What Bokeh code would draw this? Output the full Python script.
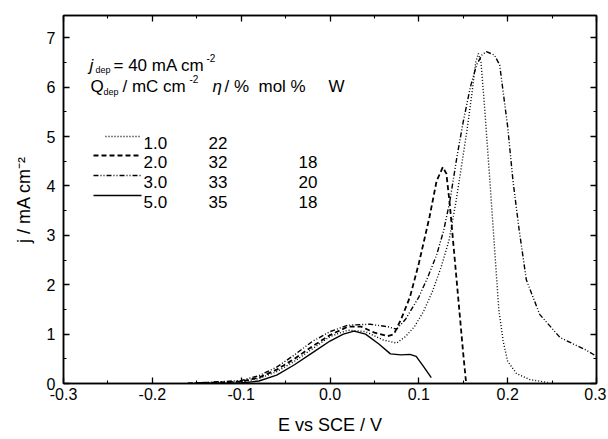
from bokeh.plotting import figure
from bokeh.models import (LinearAxis, FixedTicker, Label, Range1d)
from bokeh.embed import file_html
from bokeh.resources import INLINE

# ---------------- data ----------------
E_q10 = [-0.16, -0.1, -0.08, -0.06, -0.04, -0.02, 0.0, 0.02, 0.04, 0.06, 0.075, 0.085,
         0.095, 0.105, 0.115, 0.125, 0.134, 0.142, 0.148, 0.154, 0.16, 0.164, 0.167,
         0.17, 0.174, 0.18, 0.185, 0.19, 0.195, 0.2, 0.21, 0.225, 0.245]
j_q10 = [0.0, 0.03, 0.1, 0.24, 0.45, 0.7, 0.95, 1.08, 1.05, 0.88, 0.82, 0.95,
         1.15, 1.45, 1.85, 2.35, 2.9, 3.7, 4.4, 5.1, 5.9, 6.5, 6.68,
         6.5, 5.6, 4.1, 2.8, 1.5, 0.85, 0.45, 0.2, 0.08, 0.02]

E_q20 = [-0.16, -0.1, -0.08, -0.06, -0.04, -0.02, 0.0, 0.02, 0.035, 0.05, 0.065, 0.072,
         0.08, 0.09, 0.1, 0.112, 0.12, 0.127, 0.131, 0.135, 0.14, 0.145, 0.15, 0.153]
j_q20 = [0.0, 0.04, 0.12, 0.28, 0.5, 0.75, 0.98, 1.15, 1.15, 1.03, 0.96, 1.0,
         1.3, 1.75, 2.43, 3.37, 4.1, 4.38, 4.25, 3.6, 2.6, 1.6, 0.6, 0.05]

E_q30 = [-0.16, -0.1, -0.08, -0.06, -0.04, -0.02, 0.0, 0.02, 0.045, 0.065, 0.075, 0.085,
         0.1, 0.11, 0.12, 0.128, 0.135, 0.143, 0.15, 0.158, 0.165, 0.171, 0.176, 0.185,
         0.191, 0.2, 0.206, 0.213, 0.221, 0.236, 0.259, 0.289, 0.3]
j_q30 = [0.0, 0.06, 0.16, 0.33, 0.58, 0.85, 1.05, 1.18, 1.2, 1.15, 1.1, 1.3,
         1.75, 2.15, 2.6, 3.1, 3.7, 4.6, 5.3, 6.0, 6.45, 6.65, 6.72, 6.65,
         6.45, 5.2, 4.1, 3.1, 2.1, 1.4, 0.93, 0.67, 0.55]

E_q50 = [-0.15, -0.1, -0.08, -0.06, -0.04, -0.02, 0.0, 0.015, 0.027, 0.04, 0.055, 0.068,
         0.08, 0.09, 0.097, 0.105, 0.114]
j_q50 = [0.0, 0.01, 0.05, 0.17, 0.38, 0.62, 0.86, 1.0, 1.06, 1.0, 0.8, 0.6,
         0.58, 0.59, 0.55, 0.35, 0.12]

x_ticks = [-0.3, -0.2, -0.1, 0.0, 0.1, 0.2, 0.3]
x_tick_labels = ["-0.3", "-0.2", "-0.1", "0.0", "0.1", "0.2", "0.3"]
x_minor = [-0.25, -0.15, -0.05, 0.05, 0.15, 0.25]
y_ticks = [0, 1, 2, 3, 4, 5, 6, 7]
y_minor = [0.5, 1.5, 2.5, 3.5, 4.5, 5.5, 6.5]

q_dep = ["1.0", "2.0", "3.0", "5.0"]
eta = ["22", "32", "33", "35"]
mol_w = ["", "18", "20", "18"]

# ---------------- figure ----------------
XMIN, XMAX, YMIN, YMAX = -0.3, 0.3, 0.0, 7.45
FL, FT, FW, FH = 63, 15, 533, 368   # frame position/size in page pixels

FONT = "Liberation Sans"

p = figure(frame_width=FW, frame_height=FH, min_border_left=FL, min_border_right=10,
           min_border_top=FT, min_border_bottom=54,
           x_range=Range1d(XMIN, XMAX), y_range=Range1d(YMIN, YMAX),
           output_backend="svg", toolbar_location=None)
p.xgrid.visible = False
p.ygrid.visible = False
p.outline_line_color = "black"
p.outline_line_width = 1.5
p.background_fill_color = "white"
p.border_fill_color = "white"


def style_axis(ax, show_labels, standoff):
    ax.axis_line_color = "black"
    ax.axis_line_width = 1.5
    ax.major_tick_in = 6
    ax.major_tick_out = 0
    ax.minor_tick_in = 3
    ax.minor_tick_out = 0
    ax.major_tick_line_color = "black"
    ax.major_tick_line_width = 1.3
    ax.minor_tick_line_color = "black"
    ax.minor_tick_line_width = 1.1
    ax.major_label_text_font = FONT
    ax.major_label_text_font_size = "16px"
    ax.major_label_text_color = "black"
    ax.major_label_standoff = standoff
    if not show_labels:
        ax.major_label_text_alpha = 0.0
        ax.major_label_text_font_size = "1px"


p.xaxis.ticker = FixedTicker(ticks=x_ticks, minor_ticks=x_minor)
p.xaxis.major_label_overrides = {t: l for t, l in zip(x_ticks, x_tick_labels)}
p.yaxis.ticker = FixedTicker(ticks=y_ticks, minor_ticks=y_minor)
style_axis(p.xaxis[0], True, 4)
style_axis(p.yaxis[0], True, 8)

p.xaxis.axis_label = "E vs SCE / V"
p.yaxis.axis_label = "j / mA cm\u207b\u00b2"
for ax in (p.xaxis[0], p.yaxis[0]):
    ax.axis_label_text_font = FONT
    ax.axis_label_text_font_size = "18px"
    ax.axis_label_text_font_style = "normal"
    ax.axis_label_text_color = "black"
p.xaxis.axis_label_standoff = 12
p.yaxis.axis_label_standoff = 10

top = LinearAxis(ticker=FixedTicker(ticks=x_ticks, minor_ticks=x_minor))
style_axis(top, False, 0)
p.add_layout(top, "above")
right = LinearAxis(ticker=FixedTicker(ticks=y_ticks, minor_ticks=y_minor))
style_axis(right, False, 0)
p.add_layout(right, "right")

# ---------------- curves ----------------
p.line(E_q10, j_q10, line_color="black", line_width=1.4, line_dash="1 2")
p.line(E_q20, j_q20, line_color="black", line_width=1.8, line_dash="5 3")
p.line(E_q30, j_q30, line_color="black", line_width=1.4, line_dash="5 2 1 2 1 2")
p.line(E_q50, j_q50, line_color="black", line_width=1.4)


# ---------------- annotations (page pixel helpers) ----------------
def dx(px):
    return XMIN + (px - FL) / FW * (XMAX - XMIN)


def dy(py):
    return YMIN + (FT + FH - py) / FH * (YMAX - YMIN)


def lab(px, py, text, size="17px", style="normal"):
    p.add_layout(Label(x=dx(px), y=dy(py), text=text, text_font=FONT,
                       text_font_size=size, text_font_style=style,
                       text_color="black", text_baseline="alphabetic",
                       text_align="left"))


# header lines
lab(89, 65, "j", "17px", "italic")
lab(95, 69, "dep", "9px")
lab(113, 65, "= 40 mA cm", "17px")
lab(206, 57, "-2", "10px")

lab(90, 86, "Q", "17px")
lab(103, 91, "dep", "9px")
lab(122, 86, "/ mC cm", "17px")
lab(189, 78, "-2", "10px")
lab(212, 86, "\u03b7", "17px", "italic")
lab(224, 86, "/ %", "17px")
lab(258, 86, "mol %", "17px")
lab(328, 86, "W", "17px")

# legend rows
row_base = [142, 161, 181, 201]
dashes = ["1 2", "5 3", "5 2 1 2 1 2", "solid"]
widths = [1.4, 1.8, 1.4, 1.4]
starts = [105, 93, 93, 93]
for i in range(4):
    yb = row_base[i]
    ym = yb - 6
    p.line([dx(starts[i]), dx(141)], [dy(ym), dy(ym)], line_color="black",
           line_width=widths[i], line_dash=dashes[i])
    lab(143, yb, q_dep[i])
    lab(208, yb, eta[i])
    if mol_w[i]:
        lab(298, yb, mol_w[i])

open("out.html", "w").write(file_html(p, INLINE))
